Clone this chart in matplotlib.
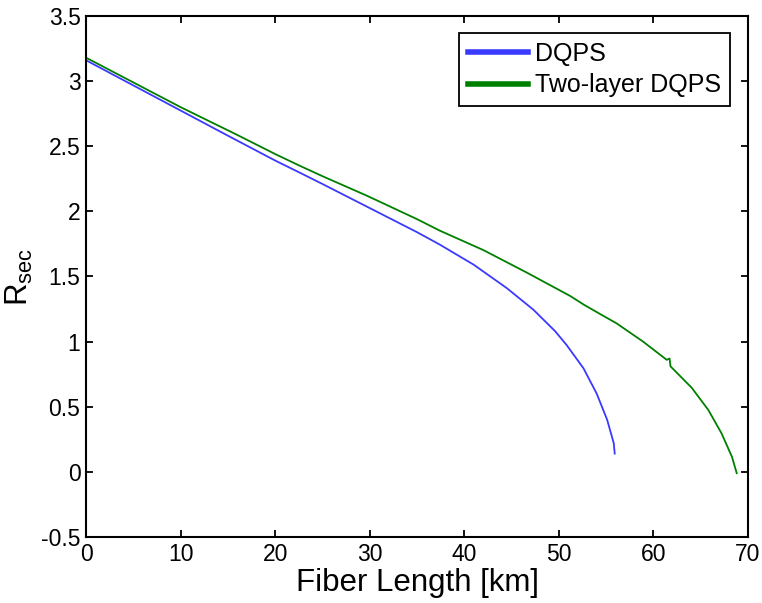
import numpy as np
import matplotlib.pyplot as plt

plt.rcParams['font.family'] = ['Liberation Sans', 'DejaVu Sans']
plt.rcParams['mathtext.fontset'] = 'custom'
plt.rcParams['mathtext.rm'] = 'Liberation Sans'

# values
dqps_x = [0, 5, 10, 15, 20, 22.6, 25, 30, 35, 37.4, 41.0, 44.5, 47.3, 49.6, 50.8, 52.6,
          54.0, 55.1, 55.8, 55.9]
dqps_y = [3.16, 2.967, 2.774, 2.581, 2.39, 2.297, 2.21, 2.025, 1.84, 1.745, 1.59, 1.41, 1.245,
          1.08, 0.975, 0.795, 0.60, 0.40, 0.22, 0.14]

two_x = [0, 5, 10, 15.9, 20, 22.6, 25, 29.7, 35, 37.4, 42.0, 46.6, 51.2, 52.6, 54.4, 56.1,
         58.9, 61.4, 61.7, 61.8, 64.05, 65.8, 67.2, 68.3, 68.8]
two_y = [3.18, 2.99, 2.80, 2.59, 2.44, 2.35, 2.27, 2.12, 1.94, 1.852, 1.703, 1.53, 1.35,
         1.285, 1.21, 1.14, 1.0, 0.86, 0.87, 0.81, 0.645, 0.475, 0.295, 0.115, -0.01]

xticks = np.arange(0, 71, 10)
yticks = np.arange(-0.5, 3.51, 0.5)
ytick_labels = ['-0.5', '0', '0.5', '1', '1.5', '2', '2.5', '3', '3.5']

fig = plt.figure(figsize=(7.62, 6.03), dpi=100)
ax = fig.add_axes([0.1129, 0.1095, 0.8688, 0.864])

ax.plot(dqps_x, dqps_y, color='#3a3aff', lw=1.3, label='DQPS')
ax.plot(two_x, two_y, color='#008000', lw=1.3, label='Two-layer DQPS')

ax.set_xlim(0, 70)
ax.set_ylim(-0.5, 3.5)
ax.set_xticks(xticks)
ax.set_yticks(yticks)
ax.set_yticklabels(ytick_labels)
ax.tick_params(direction='in', length=5, width=1.3, labelsize=16.5,
               top=True, right=True, pad=4)
for sp in ax.spines.values():
    sp.set_linewidth(1.5)

ax.set_xlabel('Fiber Length [km]', fontsize=22.5, labelpad=2)
ax.set_ylabel(r'R$_{\mathregular{sec}}$', fontsize=22.5, labelpad=4)

leg = ax.legend(loc='upper right', bbox_to_anchor=(0.958, 0.945),
                bbox_transform=fig.transFigure, fontsize=18, frameon=True,
                fancybox=False, framealpha=1, edgecolor='black',
                handlelength=2.4, handletextpad=0.3, borderpad=0.35,
                labelspacing=0.3, borderaxespad=0)
leg.get_frame().set_linewidth(1.3)
for line in leg.get_lines():
    line.set_linewidth(4)

plt.savefig('out.png', dpi=100)
